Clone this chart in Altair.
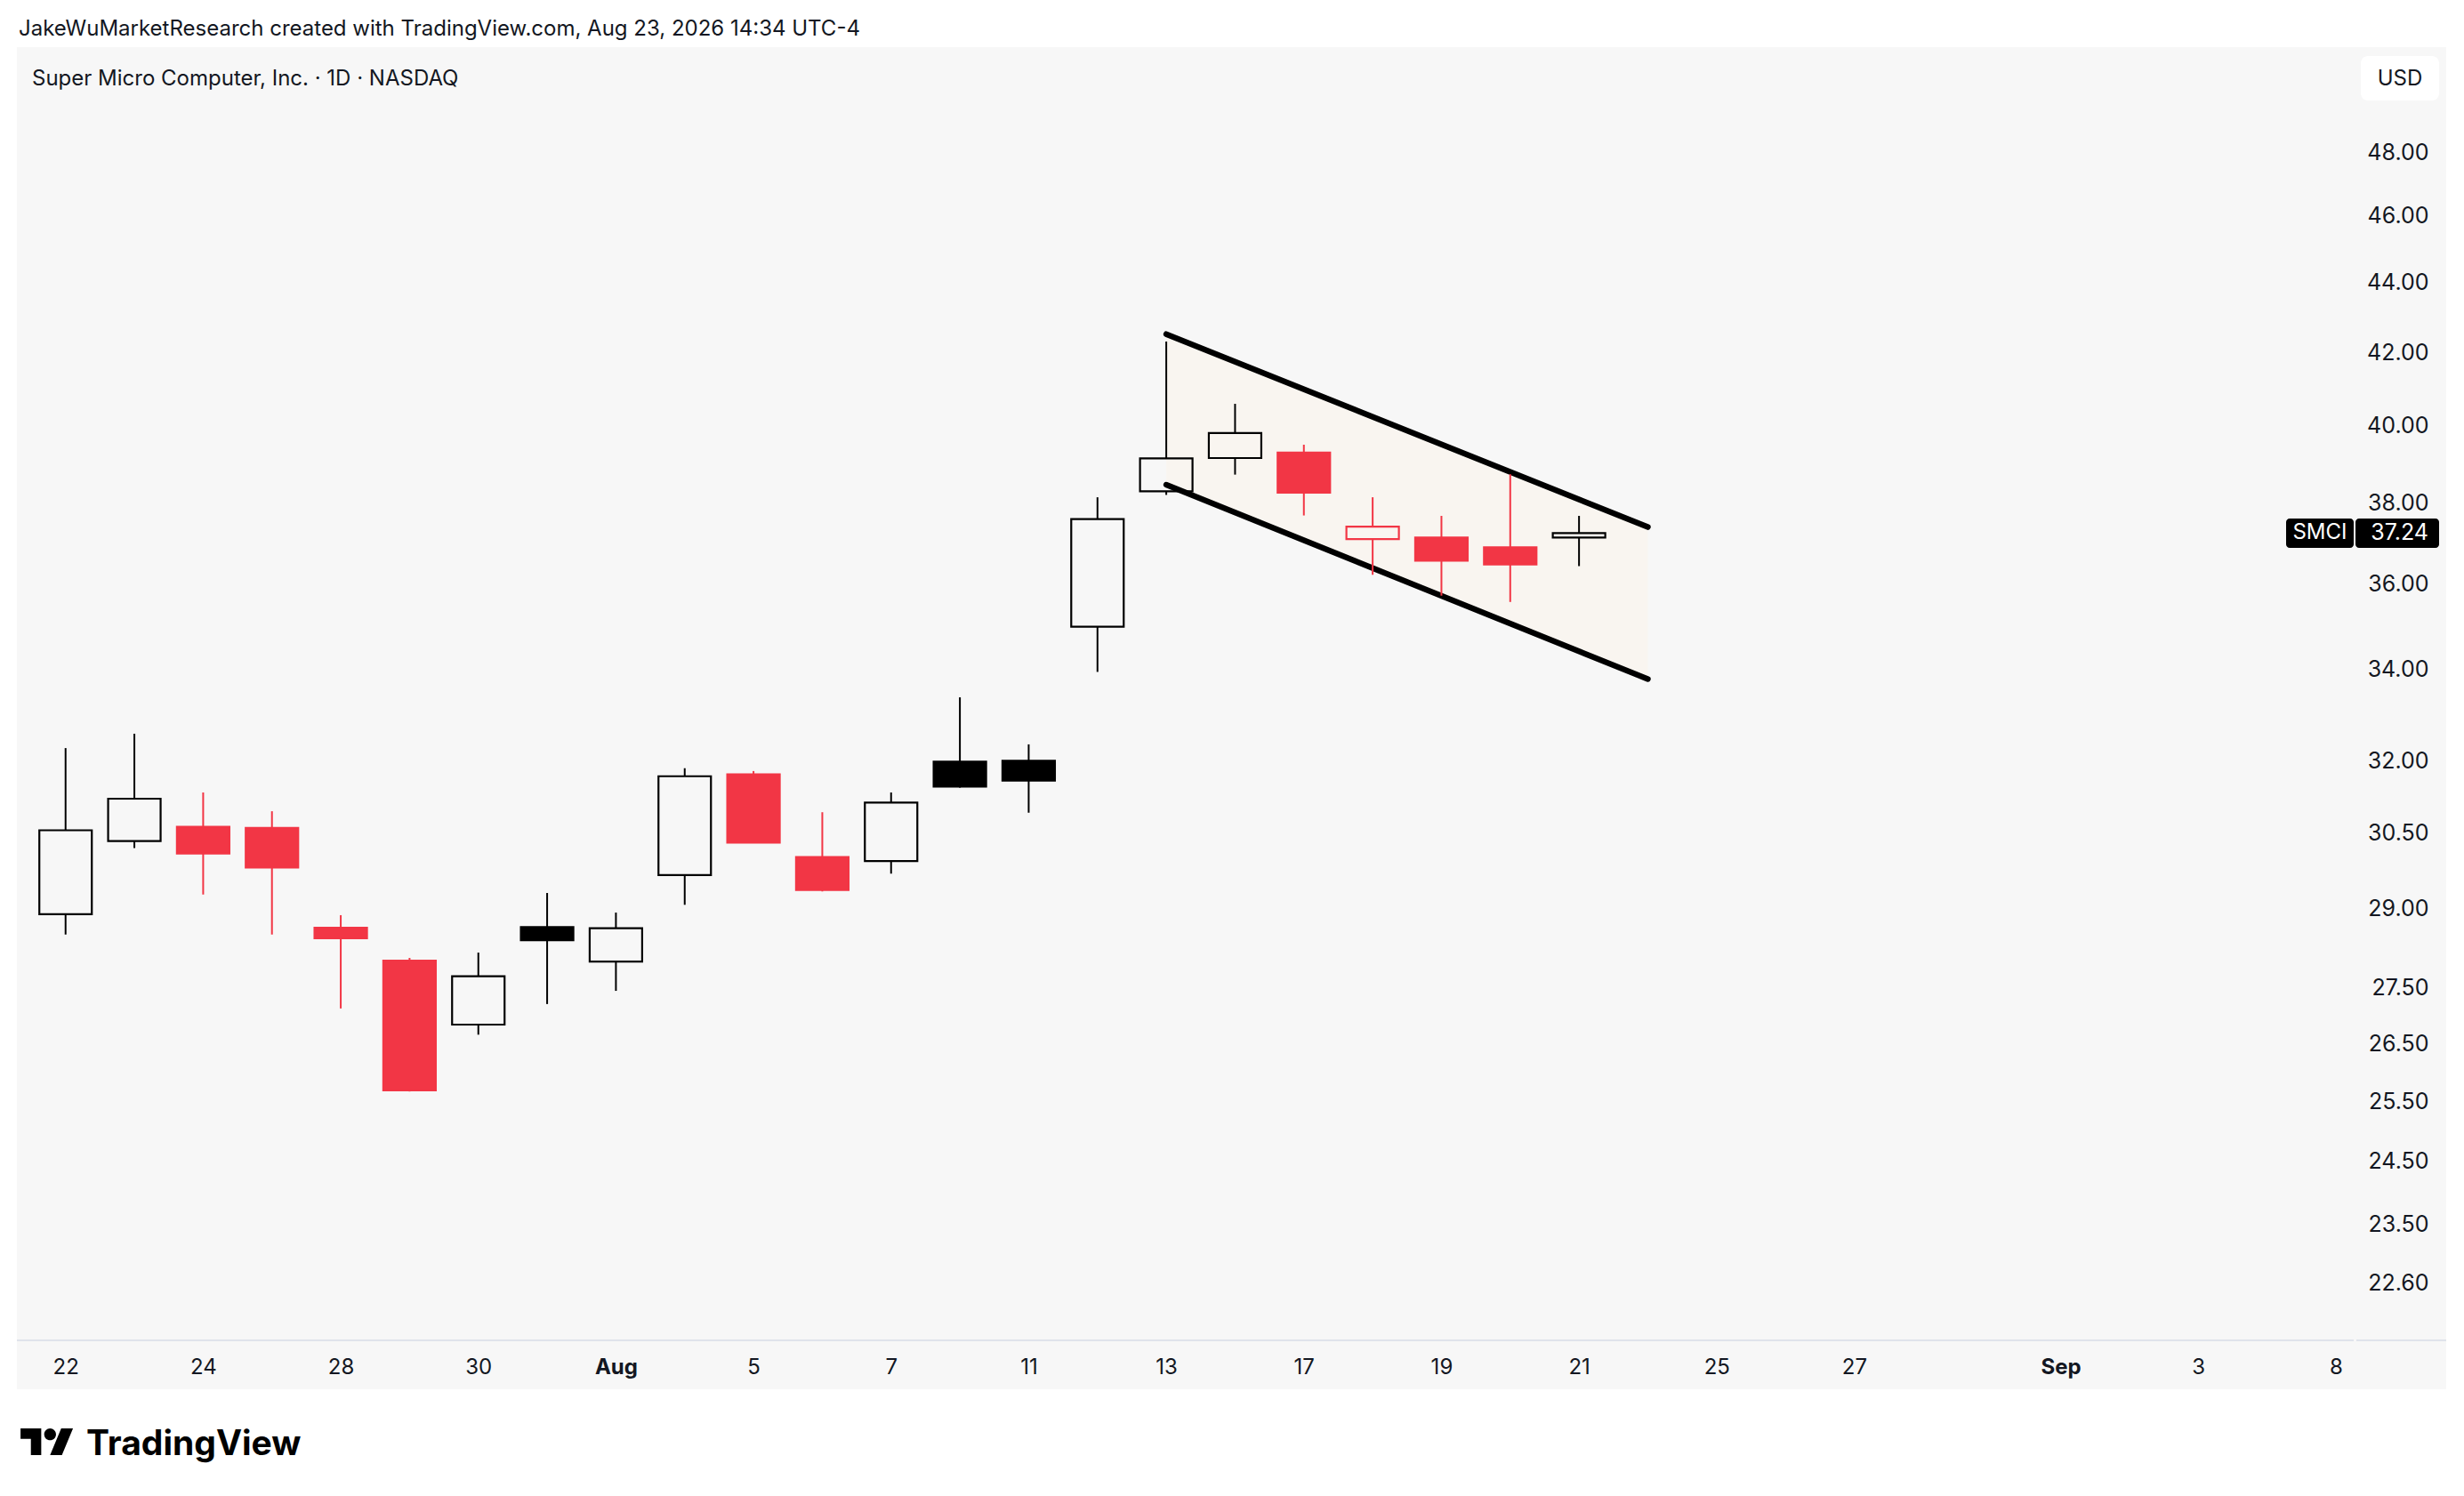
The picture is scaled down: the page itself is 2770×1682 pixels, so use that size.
import json
import altair as alt
import pandas as pd

# ---------------- data ----------------
caption = "JakeWuMarketResearch created with TradingView.com, Aug 23, 2026 14:34 UTC-4"
title_text = "Super Micro Computer, Inc. · 1D · NASDAQ"
currency = "USD"
symbol = "SMCI"
last_price = 37.24
brand = "TradingView"

# daily candles Jul 22 .. Aug 21 (trading-day index 0..22)
opens  = [28.89, 30.33, 30.62, 30.60, 28.63, 28.01, 26.84, 28.64, 27.99, 29.65, 31.71, 30.01,
          29.93, 31.98, 32.00, 34.99, 38.29, 39.15, 39.29, 37.09, 37.13, 36.89, 37.13]
highs  = [32.27, 32.58, 31.33, 30.94, 28.87, 28.06, 28.16, 29.30, 28.92, 31.84, 31.78, 30.92,
          31.33, 33.38, 32.35, 38.14, 42.31, 40.59, 39.50, 38.14, 37.67, 38.73, 37.67]
lows   = [28.50, 30.19, 29.27, 28.50, 27.13, 25.67, 26.66, 27.21, 27.45, 29.07, 30.29, 29.33,
          29.68, 31.43, 30.91, 33.95, 38.20, 38.72, 37.68, 36.22, 35.72, 35.57, 36.43]
closes = [30.55, 31.20, 30.08, 29.80, 28.43, 25.69, 27.72, 28.39, 28.62, 31.67, 30.30, 29.36,
          31.12, 31.45, 31.58, 37.59, 39.14, 39.81, 38.26, 37.40, 36.56, 36.47, 37.24]

# time axis tick positions (trading-day index) and labels
tick_idx = [0, 2, 4, 6, 8, 10, 12, 14, 16, 18, 20, 22, 24, 26, 29, 31, 33]
tick_lab = ["22", "24", "28", "30", "Aug", "5", "7", "11", "13", "17", "19", "21", "25", "27", "Sep", "3", "8"]
bold_lab = ["Aug", "Sep"]

price_ticks = [22.6, 23.5, 24.5, 25.5, 26.5, 27.5, 29, 30.5, 32, 34, 36, 38, 40, 42, 44, 46, 48]

# descending channel
chan_idx = [16, 23]
chan_upper = [42.52, 37.39]
chan_lower = [38.46, 33.79]

# ---------------- styles ----------------
RED = "#f23645"
BLK = "#000000"
TXT = "#131722"
FONT = "Inter"
W, H = 2731, 1509

rows = []
prev = None
for i, (o, h, l, c) in enumerate(zip(opens, highs, lows, closes)):
    col = BLK if (prev is None or c >= prev) else RED
    rows.append(dict(i=i, open=o, high=h, low=l, close=c,
                     top=max(o, c), bot=min(o, c), color=col,
                     fill=("transparent" if c > o else col)))
    prev = c
candles = pd.DataFrame(rows)
chan = pd.DataFrame(dict(i=chan_idx, up=chan_upper, lo=chan_lower))

full_labels = [""] * (max(tick_idx) + 1)
for t, s in zip(tick_idx, tick_lab):
    full_labels[t] = s
bold_test = " || ".join(f"datum.value == {tick_idx[tick_lab.index(b)]}" for b in bold_lab)

xs = alt.Scale(domain=[-0.6429, 34.541], nice=False, zero=False)
ys = alt.Scale(type="log", domain=[21.05, 51.48], nice=False, zero=False)

x_axis = alt.Axis(values=tick_idx, labelExpr=f"{json.dumps(full_labels)}[datum.value]",
                  title=None, grid=False, domain=False, ticks=False, tickSize=0,
                  labelPadding=0, offset=-25, labelBaseline="middle", labelAlign="center",
                  labelFontSize=24, labelFont=FONT, labelColor=TXT,
                  labelFontWeight={"condition": {"test": bold_test, "value": "bold"}, "value": "normal"},
                  labelOverlap=False, labelFlush=False, labelBound=False)
y_axis = alt.Axis(orient="right", values=price_ticks, format=".2f", title=None, grid=False,
                  domain=False, ticks=False, tickSize=0, labelPadding=0, offset=-20,
                  labelAlign="right", labelBaseline="middle", labelFontSize=25, labelFont=FONT,
                  labelColor=TXT, labelOverlap=False, labelFlush=False, labelBound=False)

X = lambda f: alt.X(f, scale=xs, axis=x_axis)
Y = lambda f: alt.Y(f, scale=ys, axis=y_axis)
one = alt.Data(values=[{"p": last_price}])

# separator line above the time axis
sep1 = alt.Chart(one).mark_rule(color="#e0e3eb", strokeWidth=2).encode(
    x=alt.value(0), x2=alt.value(2627), y=alt.value(1454))
sep2 = alt.Chart(one).mark_rule(color="#e0e3eb", strokeWidth=2).encode(
    x=alt.value(2630), x2=alt.value(W), y=alt.value(1454))

# channel
chan_fill = alt.Chart(chan).mark_area(color="#f9f5f0", opacity=1).encode(
    x=X("i:Q"), y=Y("lo:Q"), y2="up:Q")
chan_up = alt.Chart(chan).mark_line(color=BLK, strokeWidth=6.5, strokeCap="round").encode(
    x=X("i:Q"), y=Y("up:Q"))
chan_lo = alt.Chart(chan).mark_line(color=BLK, strokeWidth=6.5, strokeCap="round").encode(
    x=X("i:Q"), y=Y("lo:Q"))

# candles
base = alt.Chart(candles)
wick_up = base.mark_rule(strokeWidth=2).encode(
    x=X("i:Q"), y=Y("high:Q"), y2="top:Q", color=alt.Color("color:N", scale=None))
wick_dn = base.mark_rule(strokeWidth=2).encode(
    x=X("i:Q"), y=Y("bot:Q"), y2="low:Q", color=alt.Color("color:N", scale=None))
bodies = base.mark_bar(size=59, strokeWidth=2.2).encode(
    x=X("i:Q"), y=Y("bot:Q"), y2="top:Q",
    fill=alt.Fill("fill:N", scale=None), stroke=alt.Stroke("color:N", scale=None))


def rrect(w, h, r):
    hh, rr = h / w, 2 * r / w
    return (f"M {-1+rr} {-hh} L {1-rr} {-hh} A {rr} {rr} 0 0 1 1 {-hh+rr} L 1 {hh-rr} "
            f"A {rr} {rr} 0 0 1 {1-rr} {hh} L {-1+rr} {hh} A {rr} {rr} 0 0 1 -1 {hh-rr} "
            f"L -1 {-hh+rr} A {rr} {rr} 0 0 1 {-1+rr} {-hh} Z")


lab = alt.Chart(one)
sym_box = lab.mark_point(shape=rrect(76, 33, 4), size=76 ** 2, filled=True, fill=BLK,
                         opacity=1, strokeWidth=0).encode(x=alt.value(2589), y=Y("p:Q"))
prc_box = lab.mark_point(shape=rrect(94, 33, 4), size=94 ** 2, filled=True, fill=BLK,
                         opacity=1, strokeWidth=0).encode(x=alt.value(2676), y=Y("p:Q"))
sym_txt = lab.mark_text(text=symbol, color="white", font=FONT, fontSize=24, align="center",
                        baseline="middle").encode(x=alt.value(2589), y=Y("p:Q"))
prc_txt = lab.mark_text(text=f"{last_price:.2f}", color="white", font=FONT, fontSize=25,
                        align="right", baseline="middle").encode(x=alt.value(2711), y=Y("p:Q"))

usd_box = lab.mark_rect(fill="white", cornerRadius=8).encode(
    x=alt.value(2635), x2=alt.value(2723), y=alt.value(10), y2=alt.value(60))
usd_txt = lab.mark_text(text=currency, color=TXT, font=FONT, fontSize=24, align="center",
                        baseline="middle").encode(x=alt.value(2679), y=alt.value(36))

title_mark = lab.mark_text(text=title_text, color=TXT, font=FONT, fontSize=24, align="left",
                           baseline="alphabetic").encode(x=alt.value(17), y=alt.value(43))
caption_mark = lab.mark_text(text=caption, color=TXT, font=FONT, fontSize=24, align="left",
                             baseline="alphabetic").encode(x=alt.value(2), y=alt.value(-13))

logo_path = ("M -1 -0.5 L -0.2222 -0.5 L -0.2222 0.5 L -0.6111 0.5 L -0.6111 -0.1111 L -1 -0.1111 Z "
             "M -0.1111 -0.2778 A 0.2222 0.2222 0 1 0 0.3333 -0.2778 A 0.2222 0.2222 0 1 0 -0.1111 -0.2778 Z "
             "M 0.5556 0.5 L 0.1111 0.5 L 0.5278 -0.5 L 0.9722 -0.5 Z")
logo_icon = lab.mark_point(shape=logo_path, size=3578, filled=True, fill=BLK, opacity=1,
                           strokeWidth=0).encode(x=alt.value(34), y=alt.value(1568))
logo_txt = lab.mark_text(text=brand, color=BLK, font=FONT, fontSize=39, fontWeight="bold",
                         align="left", baseline="alphabetic").encode(x=alt.value(78), y=alt.value(1583))

chart = alt.layer(
    sep1, sep2, chan_fill, chan_up, chan_lo, wick_up, wick_dn, bodies,
    sym_box, prc_box, sym_txt, prc_txt, usd_box, usd_txt, title_mark, caption_mark,
    logo_icon, logo_txt,
).properties(
    width=W, height=H,
    padding={"left": 11, "top": 45, "right": 0, "bottom": 95},
    autosize=alt.AutoSizeParams(type="none"),
    background="white",
).configure_view(fill="#f7f7f7", stroke=None)

chart.save("out.html", embed_options={"renderer": "svg", "actions": False})
